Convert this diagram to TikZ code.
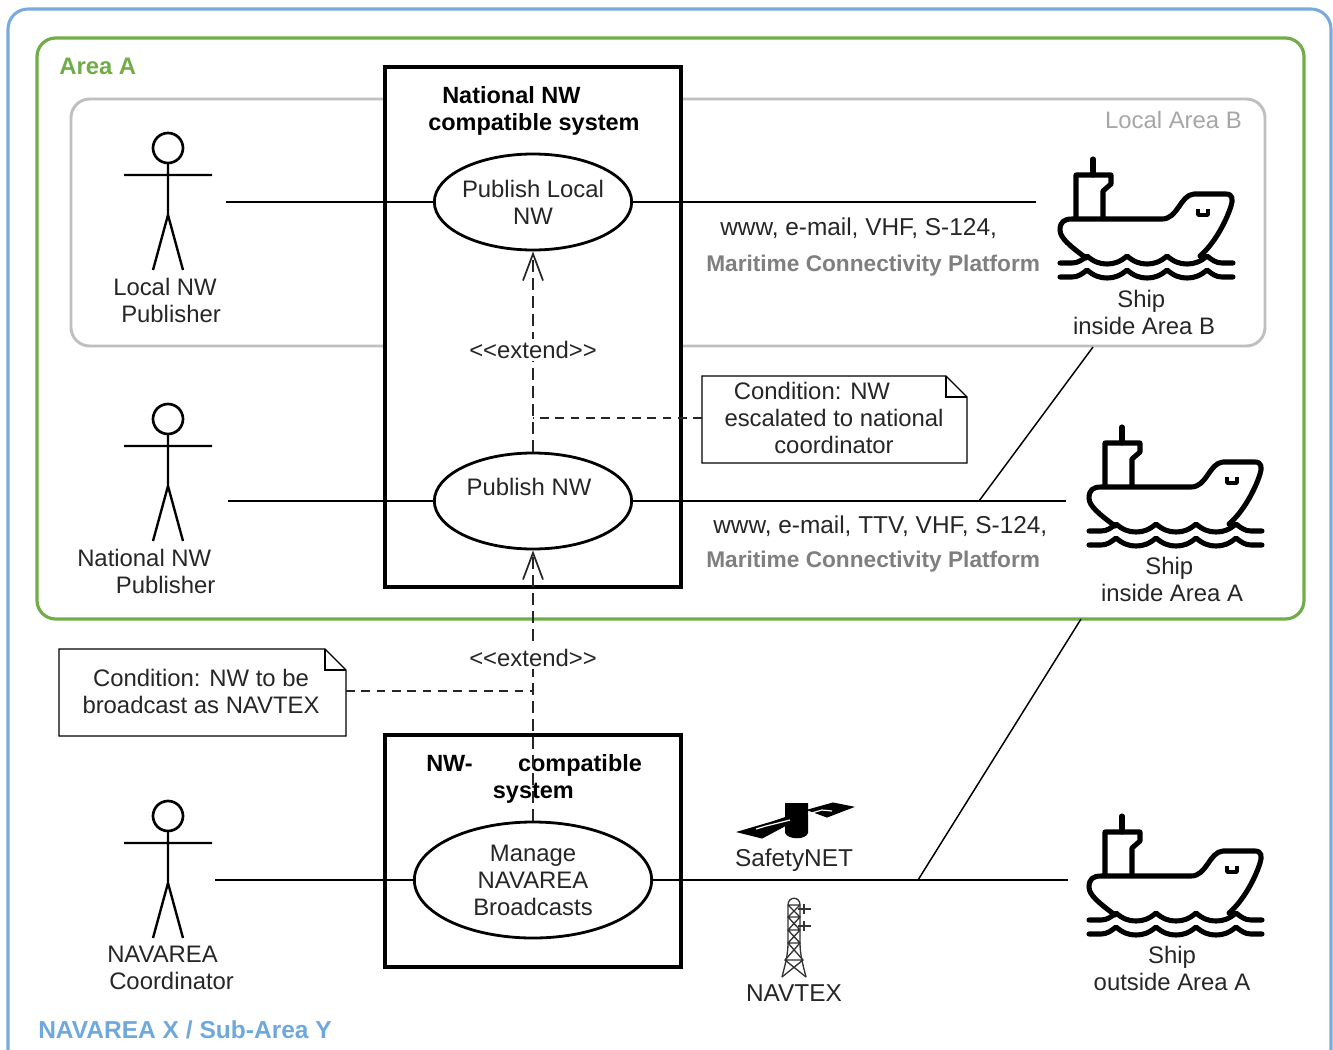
\documentclass[tikz,border=0pt]{standalone}
\usepackage{fontspec}
\setmainfont{Liberation Sans}
\usetikzlibrary{arrows.meta,shapes.geometric}
\definecolor{bluebox}{HTML}{7AAADC}
\definecolor{bluetxt}{HTML}{6FA8DC}
\definecolor{greenbox}{HTML}{70AD47}
\definecolor{greybox}{HTML}{BFBFBF}
\definecolor{greytxt}{HTML}{7F7F7F}
\definecolor{lighttxt}{HTML}{A6A6A6}
\definecolor{txt}{HTML}{262626}
\tikzset{
  x=0.75pt,y=-0.75pt,
  lbl/.style={font=\fontsize{17.9}{20.25}\selectfont,inner sep=0pt,text=txt,align=center},
  widelbl/.style={lbl,font=\fontsize{18.3}{20.25}\selectfont},
  lblleft/.style={lbl,align=left},
  boldlbl/.style={lbl,font=\fontsize{17.6}{20.25}\selectfont\bfseries,text=black},
  mcp/.style={inner sep=0pt,text=greytxt,font=\fontsize{17}{20.25}\selectfont\bfseries},
  sysbox/.style={draw=black,line width=2.3pt,fill=white},
  usecase/.style={ellipse,draw=black,line width=2.1pt,fill=white,inner sep=-6pt,align=center,text=txt,font=\fontsize{17.9}{20.25}\selectfont},
  link/.style={draw=black,line width=1.1pt},
  dashlink/.style={draw=black!85,line width=1.3pt,dash pattern=on 8.5pt off 5pt},
  ext/.style={dashlink,-{Straight Barb[length=20pt,width=15pt,line width=1.3pt]}},
  notedash/.style={draw=black!85,line width=1.1pt,dash pattern=on 6.5pt off 5pt},
  pics/actor/.style={code={
    \draw[line width=2pt] (0,0) circle[radius=15];
    \draw[line width=1.8pt] (0,15) -- (0,67) (-44,27) -- (44,27) (-15,122) -- (0,67) -- (15,122);
  }},
  pics/ship/.style={code={
    \begin{scope}[line width=3.8pt,line cap=round,line join=round]
    \draw (1093,159) -- (1093,175);
    \draw (1076,218) -- (1076,175) -- (1111,175) -- (1111,184) -- (1103,191) -- (1103,218);
    \draw (1086,258) .. controls (1070,246) and (1060,238) .. (1060,230)
       .. controls (1060,222) and (1064,219) .. (1072,219) -- (1162,219)
       .. controls (1178,219) and (1180,195) .. (1194,194) -- (1226,194)
       .. controls (1233,194) and (1233,200) .. (1231,206)
       .. controls (1226,222) and (1214,244) .. (1200,256);
    \draw[line width=2.6pt,line cap=butt] (1198,209) -- (1198,215) -- (1208,215) -- (1208,209);
    \draw (1060,263) -- (1072,263) .. controls (1078,263) and (1082,260) .. (1087,256)
      .. controls (1094,262) and (1100,264) .. (1107,264) .. controls (1114,264) and (1120,262) .. (1127,256)
      .. controls (1134,262) and (1140,264) .. (1147,264) .. controls (1154,264) and (1160,262) .. (1167,256)
      .. controls (1174,262) and (1180,264) .. (1187,264) .. controls (1194,264) and (1200,262) .. (1207,256)
      .. controls (1212,260) and (1216,263) .. (1222,263) -- (1233,263);
    \draw (1060,277) -- (1072,277) .. controls (1078,277) and (1082,274) .. (1087,270)
      .. controls (1094,276) and (1100,278) .. (1107,278) .. controls (1114,278) and (1120,276) .. (1127,270)
      .. controls (1134,276) and (1140,278) .. (1147,278) .. controls (1154,278) and (1160,276) .. (1167,270)
      .. controls (1174,276) and (1180,278) .. (1187,278) .. controls (1194,278) and (1200,276) .. (1207,270)
      .. controls (1212,274) and (1216,277) .. (1222,277) -- (1233,277);
    \end{scope}
  }},
  pics/note/.style n args={2}{code={
    \draw[line width=0.9pt,fill=white] (0,0) -- (#1-21,0) -- (#1,21) -- (#1,#2) -- (0,#2) -- cycle;
    \draw[line width=0.9pt] (#1-21,0) -- (#1-21,21) -- (#1,21);
  }},
}
\begin{document}
\begin{tikzpicture}
\useasboundingbox (0,0) rectangle (1333,1049);
% containers
\draw[bluebox,line width=2.3pt,rounded corners=15pt] (8,1075) -- (8,9) -- (1331,9) -- (1331,1075);
\draw[greenbox,line width=2.4pt,rounded corners=14pt] (37,38) rectangle (1304,619);
\draw[greybox,line width=2.2pt,rounded corners=14pt] (71,99) rectangle (1265,346);
\node[inner sep=0pt,anchor=west,text=greenbox,font=\fontsize{17.9}{20}\selectfont\bfseries] (areaA) at (59,66) {Area A};
\node[inner sep=0pt,anchor=east,text=lighttxt,font=\fontsize{17.9}{20}\selectfont] (areaB) at (1242,120) {Local Area B};
\node[inner sep=0pt,anchor=west,text=bluetxt,font=\fontsize{18.4}{20}\selectfont\bfseries] (areaX) at (38,1030) {NAVAREA X / Sub-Area Y};
% system boxes
\node[sysbox,minimum width=222pt,minimum height=390pt,inner sep=0pt] (sysA) at (533,327) {};
\node[sysbox,minimum width=222pt,minimum height=174pt,inner sep=0pt] (sysB) at (533,851) {};
\node[boldlbl,align=left,anchor=north west] (sysAt) at (428,86) {\hspace*{10.5pt}National NW\\compatible system};
\node[boldlbl,align=left,anchor=north west] (sysBt) at (426,754) {NW-\hspace{34pt}compatible\\\hspace*{50pt}system};
% use cases
\node[usecase,minimum width=148pt,minimum height=72pt] (uc1) at (533,202) {Publish Local\\NW};
\node[usecase,minimum width=148pt,minimum height=72pt] (uc2) at (533,501) {};
\node[lbl] (uc2t) at (529,487) {Publish NW};
\node[usecase,minimum width=178pt,minimum height=87pt] (uc3) at (533,880) {Manage\\NAVAREA\\Broadcasts};
% actors
\pic at (168,148) {actor};
\pic at (168,419) {actor};
\pic at (168,816) {actor};
\node[lblleft,anchor=north west] (a1t) at (113,278) {Local NW\\\hspace*{6pt}Publisher};
\node[lblleft,anchor=north west] (a2t) at (77,549) {National NW\\\hspace*{29pt}Publisher};
\node[lblleft,anchor=north west] (a3t) at (107,946) {NAVAREA\\\hspace*{1.5pt}Coordinator};
\coordinate (a1) at (226,202);
\coordinate (a2) at (228,501);
\coordinate (a3) at (215,880);
% ships
\pic at (0,0) {ship};
\pic at (29,268) {ship};
\pic at (29,657) {ship};
\node[lbl] (s1t) at (1144,312) {\hspace*{-4pt}Ship\\inside Area B};
\node[lbl] (s2t) at (1172,579) {\hspace*{-4pt}Ship\\inside Area A};
\node[lbl] (s3t) at (1172,968) {Ship\\outside Area A};
\coordinate (s1) at (1036,202);
\coordinate (s2) at (1066,501);
\coordinate (s3) at (1068,880);
% links
\draw[link] (a1) -- (uc1.west);
\draw[link] (a2) -- (uc2.west);
\draw[link] (a3) -- (uc3.west);
\draw[link] (uc1.east) -- (s1);
\draw[link] (uc2.east) -- (s2);
\draw[link] (uc3.east) -- (s3);
\coordinate (j2) at (979,501);
\coordinate (j3) at (918,880);
\coordinate (b1) at (1093,347);
\coordinate (b2) at (1081,619);
\draw[link] (j2) -- (b1);
\draw[link] (j3) -- (b2);
% channel labels
\node[widelbl,anchor=west] (c1) at (720,228) {www, e-mail, VHF, S-124,};
\node[mcp,anchor=west] (m1) at (706,266) {Maritime Connectivity Platform};
\node[widelbl,anchor=west] (c2) at (713,526) {www, e-mail, TTV, VHF, S-124,};
\node[mcp,anchor=west] (m2) at (706,562) {Maritime Connectivity Platform};
% extend
\draw[ext] (uc2.north) -- (uc1.south);
\draw[ext] (uc3.north) -- (uc2.south);
\node[lbl,fill=white,inner xsep=1pt,inner ysep=2pt] (e1) at (533,350) {<{}<extend>{}>};
\node[lbl,fill=white,inner xsep=1pt,inner ysep=2pt] (e2) at (533,658) {<{}<extend>{}>};
% notes
\pic at (702,376) {note={265}{87}};
\pic at (59,649) {note={287}{87}};
\node[lbl] (n1) at (834,418) {Condition: NW\hspace*{33pt}\\escalated to national\\coordinator};
\node[lbl] (n2) at (201,691) {Condition: NW to be\\broadcast as NAVTEX};
\coordinate (n1w) at (702,418);
\coordinate (n2e) at (346,691);
\coordinate (d1) at (533,418);
\coordinate (d2) at (533,691);
\draw[notedash] (n1w) -- (d1);
\draw[notedash] (n2e) -- (d2);
% satellite
\fill[black] (785,803) -- (808,803) -- (808,833) .. controls (806,840) and (788,840) .. (785,833) -- cycle;
\draw[black,line width=0.8pt,fill=black] (738,832) -- (772,822) -- (790,816) -- (792,822) -- (762,838) -- cycle;
\draw[white,line width=0.9pt] (756,829) -- (766,826) -- (790,820);
\draw[black,line width=0.8pt,fill=black] (808,810) -- (833,803) -- (853,807) -- (827,817) -- cycle;
\draw[white,line width=0.9pt] (808,814) -- (822,810) -- (832,811);
\node[widelbl] (sn) at (794,860) {SafetyNET};
% tower
\begin{scope}[line width=1pt,draw=black!80]
\draw (782,977) .. controls (785,965) and (788,955) .. (788,943) -- (788,905) .. controls (788,896) and (800,896) .. (800,905) -- (800,943) .. controls (800,955) and (803,965) .. (806,977);
\draw (788,905) -- (800,905) (788,905) -- (800,917) -- (788,930) -- (800,943) -- (785,960) -- (806,977)
      (800,905) -- (788,917) -- (800,930) -- (788,943) -- (803,960) -- (782,977)
      (788,917) -- (800,917) (788,930) -- (800,930) (788,943) -- (800,943) (785,960) -- (803,960);
\draw[line width=1.5pt] (798,909) -- (811,909) (804,904) -- (804,914) (798,926) -- (811,926) (804,921) -- (804,931);
\end{scope}
\node[widelbl] (nt) at (794,993) {NAVTEX};
\end{tikzpicture}
\end{document}
